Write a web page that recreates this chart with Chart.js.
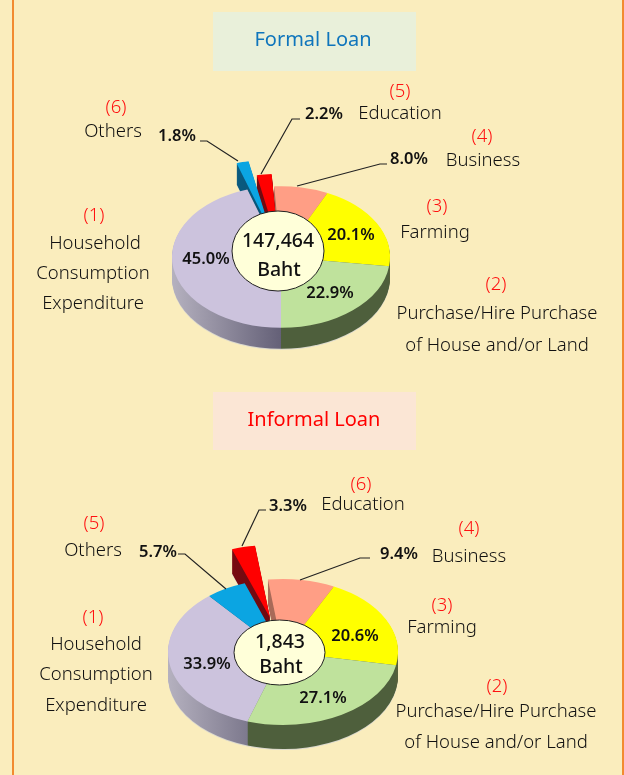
<!DOCTYPE html>
<html lang="en">
<head>
    <meta charset="UTF-8">
    <title>Formal and Informal Loan</title>
    <script src="https://cdn.jsdelivr.net/npm/chart.js"></script>
    <style>
        html, body { margin: 0; padding: 0; }
        body { width: 624px; height: 775px; background: #FAEDBD; position: relative; overflow: hidden; font-family: "Noto Sans", sans-serif; color: #111; }
        canvas { position: absolute; left: 0; }
        .rule { position: absolute; top: 0; width: 2px; height: 775px; background: #F28B30; }
        .box { position: absolute; left: 213px; width: 203px; }
        .t { position: absolute; transform: translate(-50%, calc(-50% - 1px)); white-space: nowrap; font-size: 18.5px; font-weight: 300; }
        .title { font-size: 20px; font-weight: 400; }
        .num { color: #f11; }
        .pct { font-size: 16.5px; font-weight: 600; color: #111; }
        .mid { font-size: 19.5px; font-weight: 500; color: #111; }
    </style>
</head>
<body>
    <div class="rule" style="left:12px"></div>
    <div class="rule" style="left:622px"></div>
    <div class="box" style="top:12px;height:59px;background:#E9F0DA"></div>
    <div class="box" style="top:392px;height:58px;background:#FBE6D5"></div>
    <canvas id="formalChart" width="624" height="388" style="top:0"></canvas>
    <canvas id="informalChart" width="624" height="387" style="top:388px"></canvas>

    <script>
        // slices in clockwise drawing order, starting from the rotation angle
        const formalCategories = ['Household Consumption Expenditure', 'Others', 'Education', 'Business', 'Farming', 'Purchase/Hire Purchase of House and/or Land'];
        const formalValues = [45.0, 1.8, 2.2, 8.0, 20.1, 22.9];
        const formalTotal = '147,464';

        const informalCategories = ['Household Consumption Expenditure', 'Others', 'Education', 'Business', 'Farming', 'Purchase/Hire Purchase of House and/or Land'];
        const informalValues = [33.9, 5.7, 3.3, 9.4, 20.6, 27.1];
        const informalTotal = '1,843';

        const topColors = ['#CCC3DD', '#0BA5E2', '#FF0000', '#FF9E85', '#FFFF00', '#BFE29C'];
        const wallColors = [
            ['#B5B1BF', '#5C5870'],
            ['#0A6E99', '#0A4F70'],
            ['#8E0A12', '#6A0A10'],
            ['#A86A58', '#A86A58'],
            ['#9A9A20', '#55603A'],
            ['#4E5F3C', '#4E5F3C']
        ];

        // tilted pie: draws the side wall, then squashes what Chart.js draws into an ellipse.
        // Chart.js's own arc offset also narrows the slice, so pulled out slices are moved here
        const tiltPlugin = {
            id: 'tilt',
            beforeDatasetsDraw(chart, args, opts) {
                const ctx = chart.ctx;
                const arcs = chart.getDatasetMeta(0).data;
                const cx = arcs[0].x, cy = arcs[0].y;
                arcs.forEach((arc, i) => {
                    const pull = opts.explode[i];
                    if (!pull || arc.pulled) return;
                    const draw = arc.draw;
                    arc.pulled = true;
                    arc.draw = function (c) {
                        const mid = (this.startAngle + this.endAngle) / 2;
                        c.save();
                        c.translate(Math.cos(mid) * pull, Math.sin(mid) * pull);
                        draw.call(this, c);
                        c.restore();
                    };
                });
                ctx.save();
                for (let dy = opts.depth; dy >= 1; dy--) {
                    arcs.forEach((arc, i) => {
                        const mid = (arc.startAngle + arc.endAngle) / 2;
                        const off = opts.explode[i];
                        const r = arc.outerRadius;
                        ctx.save();
                        ctx.translate(cx, cy + dy);
                        ctx.scale(1, opts.squash);
                        ctx.translate(Math.cos(mid) * off, Math.sin(mid) * off);
                        const g = ctx.createLinearGradient(-r, 0, r * 0.1, 0);
                        g.addColorStop(0, wallColors[i][0]);
                        g.addColorStop(1, wallColors[i][1]);
                        ctx.fillStyle = dy === opts.depth ? '#DAD8CE' : g;
                        ctx.beginPath();
                        ctx.moveTo(0, 0);
                        ctx.arc(0, 0, r, arc.startAngle, arc.endAngle);
                        ctx.closePath();
                        ctx.fill();
                        ctx.restore();
                    });
                }
                ctx.translate(cx, cy);
                ctx.scale(1, opts.squash);
                ctx.translate(-cx, -cy);
            },
            afterDatasetsDraw(chart, args, opts) {
                const ctx = chart.ctx;
                ctx.restore();
                // centre label ellipse
                ctx.save();
                ctx.beginPath();
                ctx.ellipse(opts.hole[0], opts.hole[1], opts.hole[2], opts.hole[3], 0, 0, Math.PI * 2);
                ctx.fillStyle = '#FFFFD9';
                ctx.fill();
                ctx.lineWidth = 1;
                ctx.strokeStyle = '#222';
                ctx.stroke();
                // leader lines
                ctx.lineWidth = 1.2;
                ctx.strokeStyle = '#222';
                opts.leaders.forEach(pts => {
                    ctx.beginPath();
                    pts.forEach((p, i) => i ? ctx.lineTo(p[0], p[1]) : ctx.moveTo(p[0], p[1]));
                    ctx.stroke();
                });
                ctx.restore();
            }
        };

        function makePie(id, cats, values, rotation, radius, cx, cy, height, tilt) {
            return new Chart(document.getElementById(id), {
                type: 'pie',
                data: {
                    labels: cats,
                    datasets: [{
                        data: values,
                        backgroundColor: topColors,
                        borderWidth: 0,
                        clip: false
                    }]
                },
                options: {
                    responsive: false,
                    animation: false,
                    rotation: rotation,
                    radius: radius,
                    // padding only moves the pie centre to where it has to sit on the page
                    layout: { padding: { left: Math.max(2 * cx - 624, 0), right: Math.max(624 - 2 * cx, 0), top: Math.max(2 * cy - height, 0), bottom: Math.max(height - 2 * cy, 0) } },
                    plugins: { legend: { display: false }, tooltip: { enabled: false }, tilt: tilt }
                },
                plugins: [tiltPlugin]
            });
        }

        makePie('formalChart', formalCategories, formalValues, 180, 109, 281, 257, 388, {
            squash: 0.65, depth: 22, hole: [278, 251, 46, 40], explode: [0, 42, 19, 0, 0, 0],
            leaders: [[[300, 119], [292, 119], [261, 174]], [[200, 141], [207, 141], [238, 161]], [[387, 164], [380, 164], [297, 186]]]
        });
        makePie('informalChart', informalCategories, informalValues, 198, 115, 283, 264, 387, {
            squash: 0.635, depth: 25, hole: [279.5, 264.5, 45.5, 32.5], explode: [0, 0, 55, 0, 0, 0],
            leaders: [[[266, 122], [259, 122], [242, 158]], [[178, 166], [185, 166], [226, 201]], [[370, 170], [360, 170], [300, 192]]]
        });

        function put(text, x, y, cls) {
            const el = document.createElement('div');
            el.className = 't ' + (cls || '');
            el.textContent = text;
            el.style.left = x + 'px';
            el.style.top = y + 'px';
            document.body.appendChild(el);
        }
        const pct = v => v.toFixed(1) + '%';

        // formal loan text
        put('Formal Loan', 313, 39, 'title');
        document.body.lastChild.style.color = '#0F75BC';
        put('(5)', 400, 90, 'num'); put('Education', 400, 112);
        put('(6)', 116, 106, 'num'); put('Others', 113, 130);
        put('(4)', 482, 135, 'num'); put('Business', 483, 159);
        put('(3)', 437, 205, 'num'); put('Farming', 435, 231);
        put('(2)', 496, 283, 'num'); put('Purchase/Hire Purchase', 497, 312); put('of House and/or Land', 497, 344);
        put('(1)', 94, 214, 'num'); put('Household', 95, 242); put('Consumption', 93, 272); put('Expenditure', 93, 302);
        put(pct(formalValues[2]), 324, 113, 'pct'); put(pct(formalValues[1]), 177, 135, 'pct');
        put(pct(formalValues[3]), 409, 158, 'pct'); put(pct(formalValues[0]), 206, 258, 'pct');
        put(pct(formalValues[4]), 351, 234, 'pct'); put(pct(formalValues[5]), 330, 292, 'pct');
        put(formalTotal, 278, 240, 'mid'); put('Baht', 279, 269, 'mid');

        // informal loan text
        put('Informal Loan', 314, 419, 'title');
        document.body.lastChild.style.color = '#FF0000';
        put('(6)', 361, 483, 'num'); put('Education', 363, 503);
        put('(5)', 94, 522, 'num'); put('Others', 93, 549);
        put('(4)', 469, 527, 'num'); put('Business', 469, 555);
        put('(3)', 442, 604, 'num'); put('Farming', 442, 626);
        put('(2)', 497, 685, 'num'); put('Purchase/Hire Purchase', 496, 710); put('of House and/or Land', 496, 741);
        put('(1)', 93, 616, 'num'); put('Household', 96, 643); put('Consumption', 96, 673); put('Expenditure', 96, 704);
        put(pct(informalValues[2]), 288, 505, 'pct'); put(pct(informalValues[1]), 158, 551, 'pct');
        put(pct(informalValues[3]), 399, 553, 'pct'); put(pct(informalValues[0]), 207, 663, 'pct');
        put(pct(informalValues[4]), 355, 635, 'pct'); put(pct(informalValues[5]), 323, 697, 'pct');
        put(informalTotal, 280, 641, 'mid'); put('Baht', 281, 666, 'mid');
    </script>
</body>
</html>
